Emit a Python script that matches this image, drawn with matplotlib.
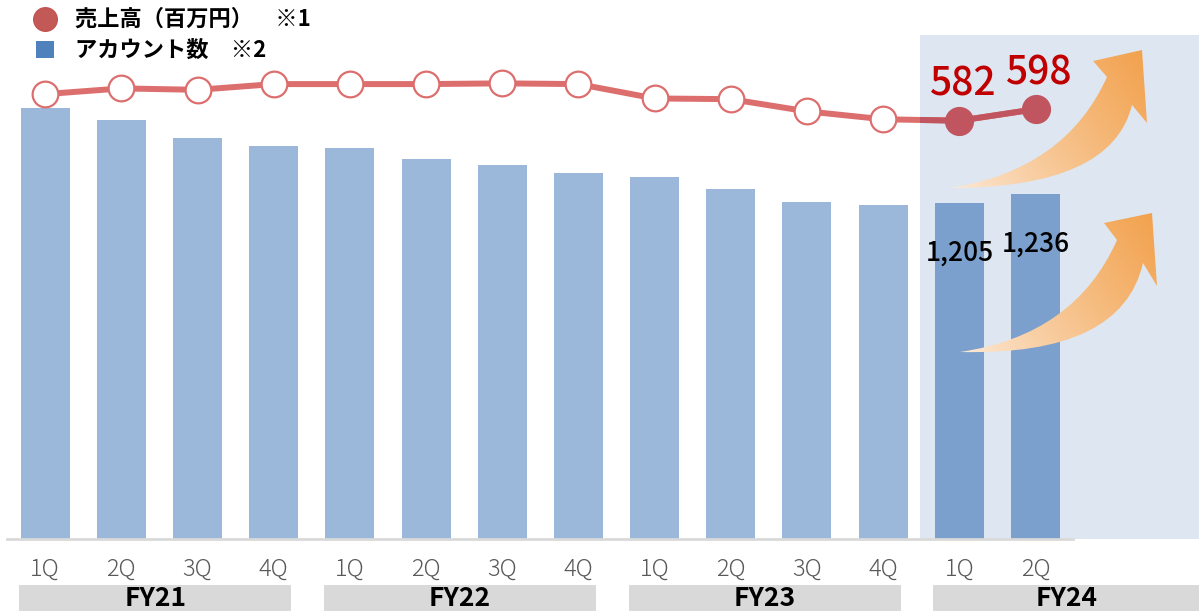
import numpy as np
import matplotlib.pyplot as plt
from matplotlib.patches import Rectangle, PathPatch
from matplotlib.path import Path
import matplotlib.transforms as mtransforms

plt.rcParams['font.family'] = ['Noto Sans CJK JP', 'DejaVu Sans']

# data
quarters = ['1Q', '2Q', '3Q', '4Q'] * 3 + ['1Q', '2Q']
years = ['FY21', 'FY22', 'FY23', 'FY24']
accounts = [1545, 1502, 1438, 1409, 1402, 1362, 1341, 1312, 1298, 1255, 1208, 1197, 1205, 1236]
sales = [619, 627, 625, 633, 633, 633, 634, 633, 613, 612, 595, 584, 582, 598]
n_hl = 2  # last quarters highlighted

W, H = 1199, 611
fig = plt.figure(figsize=(W / 100, H / 100), dpi=100)
ax = fig.add_axes([0, 72.5 / H, 1, 538.5 / H])
ax2 = ax.twinx()
x = np.arange(len(accounts))

ax.set_xlim(-0.593, 15.146)
ax.set_ylim(0, 538.5 * 3.59)
ax2.set_ylim(0, 538.5 * 1.393)
for a in (ax, ax2):
    a.axis('off')

# shaded FY24 area
ax.axvspan(11.48, 15.3, ymin=0, ymax=0.935, color='#DEE7F1', zorder=0, lw=0)

colors = ['#9BB7D9'] * (len(x) - n_hl) + ['#7BA0CD'] * n_hl
ax.bar(x, accounts, width=0.643, color=colors, zorder=2)
ax.plot([-0.5, 13.49], [0, 0], color='#D9D9D9', lw=2, zorder=3, clip_on=False)

for i in range(len(x) - n_hl, len(x)):
    ax.text(x[i], accounts[i] - 180, f'{accounts[i]:,}', ha='center', va='center',
            fontsize=19, fontweight='medium', color='black', zorder=5)

# sales line
light = '#DD6E6E'
dark = '#C0555F'
ax2.plot(x, sales, color=light, lw=4.3, zorder=3, solid_capstyle='butt')
panel = Rectangle((11.48, 0), 4, 1000, transform=ax2.transData, visible=False)
ax2.add_patch(panel)
dl, = ax2.plot(x[-3:], sales[-3:], color=dark, lw=4.3, zorder=4)
dl.set_clip_path(panel)
ax2.plot(x[:-n_hl], sales[:-n_hl], 'o', ms=18.5, mfc='white', mec=light, mew=1.6, zorder=5)
ax2.plot(x[-n_hl:], sales[-n_hl:], 'o', ms=20, mfc=dark, mec=dark, zorder=5)
for i in range(len(x) - n_hl, len(x)):
    ax2.text(x[i] + 0.05, sales[i] + 22, str(sales[i]), ha='center', va='bottom',
             fontsize=28, fontweight='medium', color='#C00000', zorder=6)

# x labels and year boxes
tr = mtransforms.blended_transform_factory(ax.transData, ax.transAxes)
for i, q in enumerate(quarters):
    ax.text(x[i], -0.058, q, transform=tr, ha='center', va='center', fontsize=17,
            fontweight='light', color='#595959', clip_on=False)
for k, yr in enumerate(years):
    x0 = 4 * k - 0.34
    x1 = 4 * k + 3.23 if k < 3 else 15.3
    ax.add_patch(Rectangle((x0, -0.14), x1 - x0, 0.054, transform=tr, color='#D9D9D9',
                           clip_on=False, lw=0))
    xc = (x0 + min(x1, 15.146)) / 2
    ax.text(xc, -0.112, yr, transform=tr, ha='center', va='center', fontsize=19,
            fontweight='bold', color='black', clip_on=False)

# overlay in pixel coords for legend and arrows
ov = fig.add_axes([0, 0, 1, 1], zorder=10)
ov.set_xlim(0, W)
ov.set_ylim(H, 0)
ov.axis('off')

ov.plot(45, 19, 'o', ms=17, color='#C0504D', alpha=0.95)
ov.add_patch(Rectangle((36, 41), 18, 17, color='#4F81BD', lw=0))
ov.text(75, 19, '売上高（百万円）　※1', fontsize=16, fontweight='bold', va='center')
ov.text(75, 50, 'アカウント数　※2', fontsize=16, fontweight='bold', va='center')


def curved_arrow(tail, c_up, neck_a, barb_a, tip, barb_b, neck_b, c_lo):
    verts = [tail, c_up, neck_a, barb_a, tip, barb_b, neck_b, c_lo, tail]
    codes = [Path.MOVETO, Path.CURVE3, Path.CURVE3, Path.LINETO, Path.LINETO,
             Path.LINETO, Path.LINETO, Path.CURVE3, Path.CURVE3]
    patch = PathPatch(Path(verts, codes), fc='none', ec='none')
    ov.add_patch(patch)
    pts = np.array(verts)
    xmin, ymin = pts.min(axis=0)
    xmax, ymax = pts.max(axis=0)
    xs = np.linspace(xmin, xmax, 200)
    ys = np.linspace(ymin, ymax, 200)
    gx, gy = np.meshgrid(xs, ys)
    d = np.array(tip) - np.array(tail)
    t = ((gx - tail[0]) * d[0] + (gy - tail[1]) * d[1]) / (d @ d)
    t = np.clip(t, 0, 1) ** 0.8
    c0 = np.array([253, 236, 220]) / 255
    c1 = np.array([242, 162, 78]) / 255
    img = c0[None, None, :] * (1 - t[..., None]) + c1[None, None, :] * t[..., None]
    im = ov.imshow(img, extent=(xmin, xmax, ymax, ymin), origin='upper', aspect='auto')
    im.set_clip_path(patch)


curved_arrow((950, 188), (1065, 170), (1107, 77), (1093, 61), (1142, 50),
             (1147, 123), (1132, 105), (1112, 188))
curved_arrow((960, 352), (1075, 335), (1117, 240), (1104, 223), (1152, 213),
             (1157, 286), (1143, 263), (1122, 356))
ov.set_xlim(0, W)
ov.set_ylim(H, 0)

fig.savefig('out.png', dpi=100)
